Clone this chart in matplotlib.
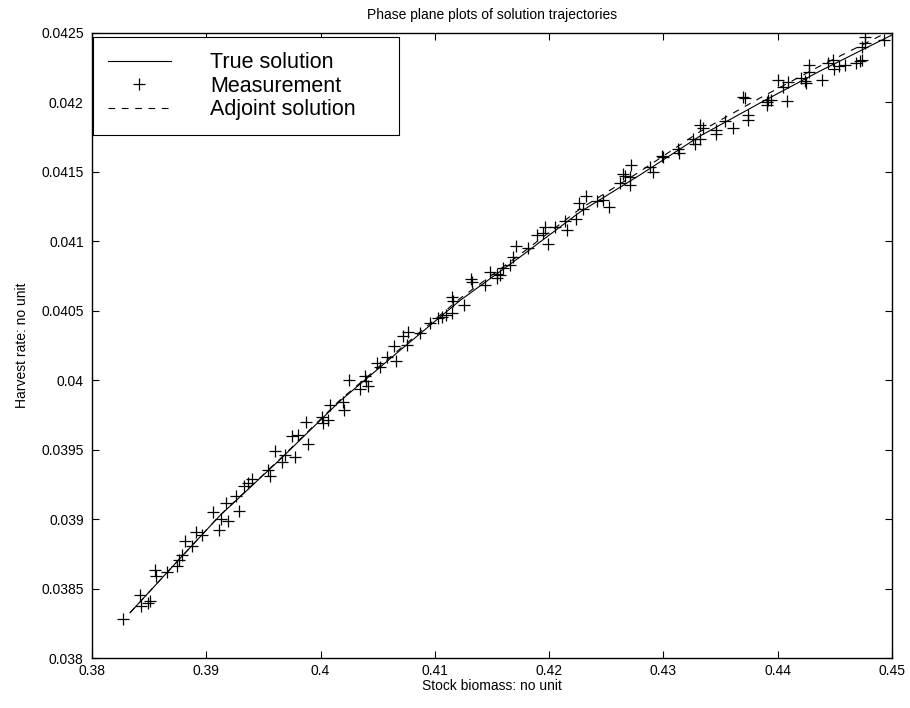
import matplotlib
matplotlib.use('Agg')
import matplotlib.pyplot as plt
from matplotlib.ticker import FormatStrFormatter

plt.rcParams['font.family'] = ['Liberation Sans', 'DejaVu Sans']

# true solution
true_x = [0.38333, 0.38770, 0.39120, 0.39645, 0.40170, 0.40695, 0.41220,
          0.41745, 0.42270, 0.42795, 0.43320, 0.43845, 0.44370, 0.45000]
true_y = [0.038326, 0.038717, 0.039026, 0.039429, 0.039850, 0.040215, 0.040574,
          0.040887, 0.041211, 0.041478, 0.041758, 0.041996, 0.042226, 0.042486]

# adjoint solution
adj_x = true_x
adj_y = [0.038326, 0.038717, 0.039028, 0.039433, 0.039857, 0.040226, 0.040588,
         0.040905, 0.041233, 0.041503, 0.041790, 0.042032, 0.042262, 0.042522]

# measurements
meas_x = [0.38269, 0.38424, 0.38429, 0.38487, 0.38508, 0.38551, 0.38560, 0.38656,
          0.38746, 0.38761, 0.38788, 0.38814, 0.38879, 0.38907, 0.38963, 0.39056,
          0.39107, 0.39129, 0.39194, 0.39173, 0.39260, 0.39282, 0.39334, 0.39369,
          0.39397, 0.39543, 0.39558, 0.39601, 0.39660, 0.39689, 0.39776, 0.39747,
          0.39805, 0.39893, 0.39873, 0.40010, 0.40024, 0.40068, 0.40083, 0.40199,
          0.40202, 0.40249, 0.40345, 0.40389, 0.40400, 0.40418, 0.40491, 0.40520,
          0.40579, 0.40660, 0.40643, 0.40754, 0.40724, 0.40768, 0.40870, 0.40958,
          0.41030, 0.41060, 0.41098, 0.41147, 0.41147, 0.41161, 0.41252, 0.41312,
          0.41327, 0.41439, 0.41483, 0.41541, 0.41567, 0.41546, 0.41599, 0.41658,
          0.41686, 0.41714, 0.41815, 0.41891, 0.41944, 0.41968, 0.41993, 0.42051,
          0.42139, 0.42154, 0.42235, 0.42260, 0.42294, 0.42323, 0.42423, 0.42467,
          0.42528, 0.42620, 0.42649, 0.42664, 0.42714, 0.42708, 0.42708, 0.42883,
          0.42906, 0.42985, 0.42999, 0.43130, 0.43139, 0.43261, 0.43272, 0.43320,
          0.43316, 0.43349, 0.43456, 0.43463, 0.43543, 0.43609, 0.43699, 0.43714,
          0.43743, 0.43736, 0.43904, 0.43918, 0.43939, 0.43904, 0.44005, 0.44046,
          0.44086, 0.44081, 0.44204, 0.44239, 0.44252, 0.44271, 0.44278, 0.44385,
          0.44440, 0.44482, 0.44493, 0.44535, 0.44589, 0.44683, 0.44716, 0.44738,
          0.44742, 0.44764, 0.44764, 0.44930]
meas_y = [0.038284, 0.038454, 0.038371, 0.038398, 0.038407, 0.038634, 0.038590, 0.038619,
          0.038666, 0.038706, 0.038742, 0.038842, 0.038803, 0.038909, 0.038886, 0.039048,
          0.038919, 0.038999, 0.038986, 0.039118, 0.039166, 0.039061, 0.039236, 0.039260,
          0.039287, 0.039354, 0.039310, 0.039493, 0.039413, 0.039462, 0.039445, 0.039598,
          0.039606, 0.039541, 0.039701, 0.039737, 0.039694, 0.039714, 0.039822, 0.039843,
          0.039786, 0.040005, 0.039935, 0.040034, 0.039994, 0.039958, 0.040122, 0.040093,
          0.040165, 0.040141, 0.040246, 0.040254, 0.040318, 0.040349, 0.040342, 0.040410,
          0.040446, 0.040457, 0.040470, 0.040482, 0.040601, 0.040574, 0.040545, 0.040729,
          0.040707, 0.040686, 0.040781, 0.040767, 0.040761, 0.040734, 0.040806, 0.040833,
          0.040885, 0.040966, 0.040950, 0.041046, 0.041058, 0.041105, 0.040983, 0.041103,
          0.041146, 0.041084, 0.041162, 0.041276, 0.041231, 0.041323, 0.041289, 0.041294,
          0.041249, 0.041418, 0.041485, 0.041470, 0.041550, 0.041465, 0.041406, 0.041537,
          0.041498, 0.041614, 0.041604, 0.041663, 0.041638, 0.041737, 0.041703, 0.041735,
          0.041834, 0.041814, 0.041804, 0.041775, 0.041866, 0.041814, 0.042041, 0.042032,
          0.041913, 0.041870, 0.042000, 0.042018, 0.042014, 0.041982, 0.042164, 0.042111,
          0.042147, 0.042010, 0.042176, 0.042151, 0.042138, 0.042270, 0.042219, 0.042162,
          0.042282, 0.042309, 0.042242, 0.042260, 0.042270, 0.042282, 0.042298, 0.042306,
          0.042396, 0.042426, 0.042473, 0.042452]

x_ticks = [0.38, 0.39, 0.40, 0.41, 0.42, 0.43, 0.44, 0.45]
y_ticks = [0.038, 0.0385, 0.039, 0.0395, 0.040, 0.0405, 0.041, 0.0415, 0.042, 0.0425]

fig = plt.figure(figsize=(9.1, 7.08), dpi=100)
ax = fig.add_axes([0.1011, 0.0706, 0.8791, 0.8828])

ax.plot(true_x, true_y, '-', color='black', lw=0.8, label='True solution')
ax.plot(meas_x, meas_y, '+', color='black', ms=8.5, mew=0.9, label='Measurement')
ax.plot(adj_x, adj_y, color='black', lw=0.8, linestyle=(0, (6, 6)),
        label='Adjoint solution')

ax.set_xlim(0.38, 0.45)
ax.set_ylim(0.038, 0.0425)
ax.set_xticks(x_ticks)
ax.set_yticks(y_ticks)
ax.xaxis.set_major_formatter(FormatStrFormatter('%g'))
ax.yaxis.set_major_formatter(FormatStrFormatter('%g'))
ax.tick_params(direction='in', length=5, width=0.8, top=True, right=True,
               labelsize=10, pad=6)
ax.tick_params(axis='x', pad=4)
for sp in ax.spines.values():
    sp.set_linewidth(1.0)

ax.set_title('Phase plane plots of solution trajectories', fontsize=10, pad=10)
ax.set_xlabel('Stock biomass: no unit', fontsize=10, labelpad=1)
ax.set_ylabel('Harvest rate: no unit', fontsize=10, labelpad=9)

leg = ax.legend(loc='upper left', bbox_to_anchor=(0.00125, 0.9936, 0.382, 0.0),
                mode='expand', fontsize=15.5, handlelength=2.9, handletextpad=1.85,
                labelspacing=0.12, borderpad=0.7, borderaxespad=0.0,
                fancybox=False, framealpha=1.0, edgecolor='black')
leg.get_frame().set_linewidth(0.8)

fig.savefig('out.png', dpi=100)
